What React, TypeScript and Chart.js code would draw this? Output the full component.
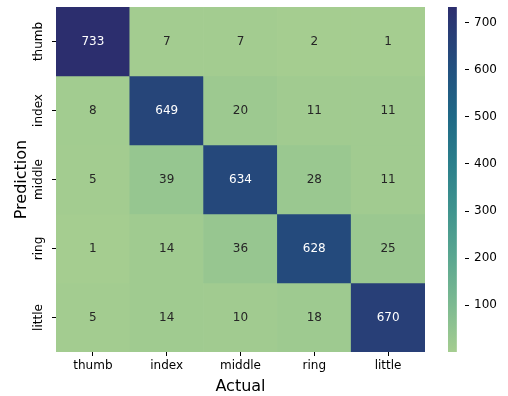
import React, { useEffect, useRef } from 'react';
import { Chart, registerables } from 'chart.js';

Chart.register(...registerables);

// Confusion matrix: rows are predicted classes, columns are actual classes.
const actualLabels = ['thumb', 'index', 'middle', 'ring', 'little'];
const predictionLabels = ['thumb', 'index', 'middle', 'ring', 'little'];

const predThumb = [733, 7, 7, 2, 1];
const predIndex = [8, 649, 20, 11, 11];
const predMiddle = [5, 39, 634, 28, 11];
const predRing = [1, 14, 36, 628, 25];
const predLittle = [5, 14, 10, 18, 670];

const matrixRows = [predThumb, predIndex, predMiddle, predRing, predLittle];

const colorbarTicks = [100, 200, 300, 400, 500, 600, 700];

const allValues = matrixRows.flat();
const VMIN = Math.min(...allValues);
const VMAX = Math.max(...allValues);

const FONT = 'DejaVu Sans';

// Light green to deep indigo sequential palette.
const CREST_STOPS: [number, string][] = [
  [0.0, '#a5cd90'],
  [0.135, '#7dba91'],
  [0.272, '#5ba790'],
  [0.408, '#40948e'],
  [0.545, '#2b7f8b'],
  [0.681, '#1f6986'],
  [0.818, '#22517f'],
  [0.954, '#2a3873'],
  [1.0, '#2c2e6e'],
];

function hexToRgb(h: string): number[] {
  const n = parseInt(h.slice(1), 16);
  return [(n >> 16) & 255, (n >> 8) & 255, n & 255];
}

function crestRgb(t: number): number[] {
  const tt = Math.max(0, Math.min(1, t));
  for (let i = 1; i < CREST_STOPS.length; i++) {
    const [t1, c1] = CREST_STOPS[i];
    const [t0, c0] = CREST_STOPS[i - 1];
    if (tt <= t1) {
      const f = (tt - t0) / (t1 - t0);
      const a = hexToRgb(c0);
      const b = hexToRgb(c1);
      return a.map((v, k) => Math.round(v + (b[k] - v) * f));
    }
  }
  return hexToRgb(CREST_STOPS[CREST_STOPS.length - 1][1]);
}

function rgbStr(c: number[]): string {
  return `rgb(${c[0]},${c[1]},${c[2]})`;
}

function norm(v: number): number {
  return (v - VMIN) / (VMAX - VMIN);
}

// Relative luminance, used to choose light or dark annotation text.
function luminance(c: number[]): number {
  const lin = c.map((v) => {
    const s = v / 255;
    return s <= 0.03928 ? s / 12.92 : Math.pow((s + 0.055) / 1.055, 2.4);
  });
  return 0.2126 * lin[0] + 0.7152 * lin[1] + 0.0722 * lin[2];
}

const cellValueLabels = {
  id: 'cellValueLabels',
  afterDatasetsDraw(chart: any) {
    const ctx = chart.ctx;
    ctx.save();
    ctx.font = `12px "${FONT}"`;
    ctx.textAlign = 'center';
    ctx.textBaseline = 'middle';
    chart.data.datasets.forEach((ds: any, r: number) => {
      const meta = chart.getDatasetMeta(r);
      meta.data.forEach((bar: any, c: number) => {
        const v = matrixRows[r][c];
        const { x, y, base } = bar.getProps(['x', 'y', 'base'], true);
        const col = crestRgb(norm(v));
        ctx.fillStyle = luminance(col) > 0.408 ? '#262626' : '#ffffff';
        ctx.fillText(String(v), x, (y + base) / 2);
      });
    });
    ctx.restore();
  },
};

const tickGrid = {
  display: true,
  drawOnChartArea: false,
  drawTicks: true,
  tickLength: 4,
  offset: false,
  color: '#000000',
  lineWidth: 1,
};

function noEdgePadding(s: any) {
  s.paddingTop = 0;
  s.paddingBottom = 0;
  s.paddingLeft = 0;
  s.paddingRight = 0;
}

export default function App() {
  const heatRef = useRef<HTMLCanvasElement>(null);
  const barRef = useRef<HTMLCanvasElement>(null);

  useEffect(() => {
    if (!heatRef.current || !barRef.current) return;

    const heat = new Chart(heatRef.current, {
      type: 'bar',
      data: {
        labels: actualLabels,
        datasets: matrixRows.map((row, r) => ({
          label: predictionLabels[r],
          data: row.map(() => [r, r + 1]),
          backgroundColor: row.map((v) => rgbStr(crestRgb(norm(v)))),
          borderWidth: 0,
          borderSkipped: false,
          barPercentage: 1,
          categoryPercentage: 1,
          grouped: false,
          yAxisID: 'cells',
        })) as any,
      },
      options: {
        responsive: false,
        animation: false,
        layout: { padding: { left: 0, top: 7, right: 83, bottom: 0 } },
        plugins: {
          legend: { display: false },
          tooltip: { enabled: false },
        },
        scales: {
          x: {
            type: 'category',
            offset: true,
            grid: tickGrid,
            border: { display: false },
            ticks: {
              color: '#000000',
              font: { family: FONT, size: 12 },
              padding: 3,
              maxRotation: 0,
              minRotation: 0,
            },
            title: {
              display: true,
              text: 'Actual',
              color: '#000000',
              font: { family: FONT, size: 16 },
              padding: 0,
            },
            afterFit: (s: any) => {
              s.height = 44;
              noEdgePadding(s);
            },
          },
          y: {
            type: 'category',
            labels: predictionLabels,
            offset: true,
            position: 'left',
            grid: tickGrid,
            border: { display: false },
            ticks: {
              color: '#000000',
              font: { family: FONT, size: 12 },
              minRotation: 90,
              maxRotation: 90,
              crossAlign: 'center',
              padding: -7.5,
            },
            title: {
              display: true,
              text: 'Prediction',
              color: '#000000',
              font: { family: FONT, size: 16 },
              padding: { top: 12, bottom: 0 },
            },
            afterFit: (s: any) => {
              s.width = 56;
              noEdgePadding(s);
            },
          },
          cells: {
            type: 'linear',
            display: false,
            min: 0,
            max: matrixRows.length,
            reverse: true,
          },
        },
      } as any,
      plugins: [cellValueLabels],
    });

    const bar = new Chart(barRef.current, {
      type: 'bar',
      data: {
        labels: [''],
        datasets: [
          {
            data: [[VMIN, VMAX]],
            backgroundColor: (c: any) => {
              const chart = c.chart;
              const ys = chart.scales?.y;
              if (!chart.chartArea || !ys) return rgbStr(crestRgb(0.5));
              const g = chart.ctx.createLinearGradient(
                0,
                ys.getPixelForValue(VMIN),
                0,
                ys.getPixelForValue(VMAX)
              );
              CREST_STOPS.forEach(([t, col]) => g.addColorStop(t, col));
              return g;
            },
            borderWidth: 0,
            borderSkipped: false,
            barPercentage: 1,
            categoryPercentage: 1,
          },
        ] as any,
      },
      options: {
        responsive: false,
        animation: false,
        layout: { padding: { left: 8, top: 7, right: 0, bottom: 44 } },
        plugins: {
          legend: { display: false },
          tooltip: { enabled: false },
        },
        scales: {
          x: { display: false, offset: false },
          y: {
            type: 'linear',
            position: 'right',
            min: VMIN,
            max: VMAX,
            afterBuildTicks: (s: any) => {
              s.ticks = colorbarTicks.map((v) => ({ value: v }));
            },
            grid: tickGrid,
            border: { display: false },
            ticks: {
              color: '#000000',
              font: { family: FONT, size: 12 },
              padding: 5,
            },
            afterFit: (s: any) => {
              s.width = 43;
              noEdgePadding(s);
            },
          },
        },
      } as any,
    });

    return () => {
      heat.destroy();
      bar.destroy();
    };
  }, []);

  return (
    <div style={{ position: 'absolute', left: 0, top: 0, width: 508, height: 396, background: '#ffffff' }}>
      <canvas
        ref={heatRef}
        width={508}
        height={396}
        style={{ position: 'absolute', left: 0, top: 0, width: 508, height: 396 }}
      />
      <canvas
        ref={barRef}
        width={68}
        height={396}
        style={{ position: 'absolute', left: 440, top: 0, width: 68, height: 396 }}
      />
    </div>
  );
}
